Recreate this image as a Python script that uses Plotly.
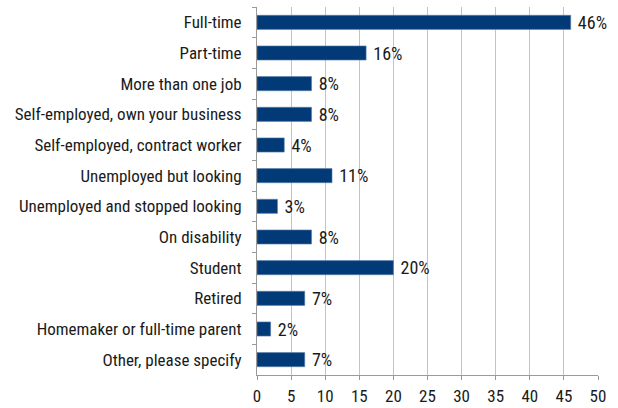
import plotly.graph_objects as go

categories = [
    "Full-time",
    "Part-time",
    "More than one job",
    "Self-employed, own your business",
    "Self-employed, contract worker",
    "Unemployed but looking",
    "Unemployed and stopped looking",
    "On disability",
    "Student",
    "Retired",
    "Homemaker or full-time parent",
    "Other, please specify",
]
values = [46, 16, 8, 8, 4, 11, 3, 8, 20, 7, 2, 7]
x_ticks = list(range(0, 55, 5))

font_family = "Roboto Condensed, Liberation Sans Narrow, Arial Narrow, sans-serif"

fig = go.Figure(
    go.Bar(
        x=values,
        y=categories,
        orientation="h",
        marker=dict(color="#023a78", line=dict(color="#5d82ad", width=0.6)),
        width=0.46,
        text=[f" {v}%" for v in values],
        textposition="outside",
        constraintext="none",
        textfont=dict(size=18, color="#1a1a1a", family=font_family),
        cliponaxis=False,
        hoverinfo="skip",
    )
)

fig.update_layout(
    width=618,
    height=408,
    margin=dict(l=257, r=20, t=7, b=33, autoexpand=False),
    paper_bgcolor="white",
    plot_bgcolor="white",
    showlegend=False,
    font=dict(family=font_family, size=17, color="#1a1a1a"),
)

fig.update_xaxes(
    range=[0, 50],
    tickvals=x_ticks,
    showgrid=True,
    gridcolor="#c4c4c4",
    gridwidth=1,
    showline=True,
    linecolor="#9a9a9a",
    ticks="outside",
    ticklen=4,
    tickcolor="#9a9a9a",
    tickfont=dict(size=17),
    ticklabelstandoff=2,
    zeroline=False,
    automargin=False,
)

fig.update_yaxes(
    categoryorder="array",
    categoryarray=categories,
    autorange="reversed",
    showline=True,
    linecolor="#9a9a9a",
    ticks="outside",
    tickson="boundaries",
    ticklen=4,
    tickcolor="#9a9a9a",
    tickfont=dict(size=17),
    ticklabelstandoff=11,
    automargin=False,
)

fig.write_html(
    "out.html",
    config={"displayModeBar": False},
    post_script="document.body.style.margin='0';",
)
